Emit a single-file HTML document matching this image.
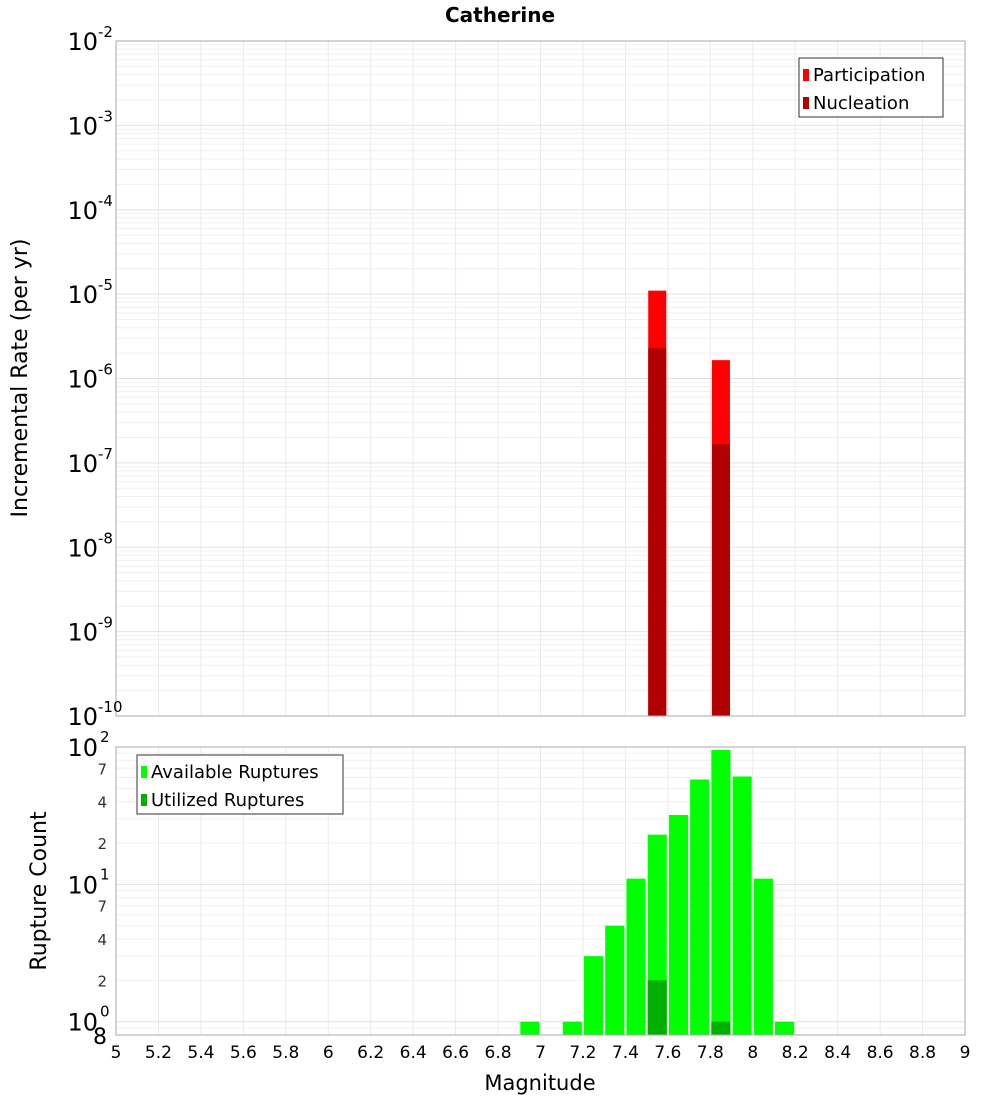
<!DOCTYPE html>
<html><head><meta charset="utf-8"><style>
body{margin:0;background:#fff;font-family:"DejaVu Sans","Liberation Sans",sans-serif}
svg text{font-family:"DejaVu Sans","Liberation Sans",sans-serif}
</style></head><body>
<svg id="c" width="1000" height="1100" xmlns="http://www.w3.org/2000/svg">
<text x="500" y="22" text-anchor="middle" font-size="20" font-weight="bold">Catherine</text>
</svg>
<script>
const topMags=[7.55,7.85];
const participation=[1.1e-5,1.65e-6];
const nucleation=[2.3e-6,1.67e-7];
const botMags=[6.95,7.05,7.15,7.25,7.35,7.45,7.55,7.65,7.75,7.85,7.95,8.05,8.15];
const available=[1,0,1,3,5,11,23,32,58,95,61,11,1];
const utilized=[0,0,0,0,0,0,2,0,0,1,0,0,0];
const xTicks=[5,5.2,5.4,5.6,5.8,6,6.2,6.4,6.6,6.8,7,7.2,7.4,7.6,7.8,8,8.2,8.4,8.6,8.8,9];
const topDecades=[-10,-9,-8,-7,-6,-5,-4,-3,-2];
const botMinorLabels=[2,4,7];

const svg=document.getElementById('c');const NS='http://www.w3.org/2000/svg';
function el(t,a,p){const e=document.createElementNS(NS,t);for(const k in a)e.setAttribute(k,a[k]);(p||svg).appendChild(e);return e;}
const L=116,R=965;
const x=v=>L+(v-5)/(9-5)*(R-L);
const T1=41,B1=716;const y1=v=>B1-(Math.log10(v)+10)/8*(B1-T1);
const T2=747,B2=1035;const lmin=Math.log10(0.8),lmax=2;const y2=v=>B2-(Math.log10(v)-lmin)/(lmax-lmin)*(B2-T2);

function grid(top,bot,yf,decs){
 const g=el('g',{});
 xTicks.forEach(t=>el('line',{x1:x(t),x2:x(t),y1:top,y2:bot,stroke:'#ebebeb'},g));
 decs.forEach(d=>{for(let m=1;m<10;m++){const v=m*Math.pow(10,d);const yy=yf(v);if(yy<top-0.5||yy>bot+0.5)continue;
  el('line',{x1:L,x2:R,y1:yy,y2:yy,stroke:m==1?'#e2e2e2':'#f0f0f0'},g);}});
}
grid(T1,B1,y1,topDecades);
grid(T2,B2,y2,[-1,0,1,2]);

// top bars
const bw=0.085;
topMags.forEach((m,i)=>{
 const r=el('rect',{x:x(m-bw/2),y:y1(participation[i]),width:x(m+bw/2)-x(m-bw/2),height:B1-y1(participation[i]),fill:'#ff0000'});
 
 const n=el('rect',{x:x(m-bw/2),y:y1(nucleation[i]),width:x(m+bw/2)-x(m-bw/2),height:B1-y1(nucleation[i]),fill:'#b00000'});
 
});
// bottom bars
const bw2=0.09;
botMags.forEach((m,i)=>{
 if(available[i]>0){const r=el('rect',{x:x(m-bw2/2),y:y2(available[i]),width:x(m+bw2/2)-x(m-bw2/2),height:B2-y2(available[i]),fill:'#00ff00'});
 }
 if(utilized[i]>0){const u=el('rect',{x:x(m-bw2/2),y:y2(utilized[i]),width:x(m+bw2/2)-x(m-bw2/2),height:B2-y2(utilized[i]),fill:'#00b000'});
 }
});
el('rect',{x:L,y:T1,width:R-L,height:B1-T1,fill:'none',stroke:'#aaa'});
el('rect',{x:L,y:T2,width:R-L,height:B2-T2,fill:'none',stroke:'#aaa'});

// top y labels
topDecades.forEach(d=>{const yy=y1(Math.pow(10,d));
 const t=el('text',{x:98,y:yy+9,'text-anchor':'end','font-size':24});t.textContent='10';
 
 const s=el('text',{x:98,y:yy-4,'font-size':15});s.textContent=String(d);
 });
// bottom y labels
[0,1,2].forEach(d=>{const yy=y2(Math.pow(10,d));
 const t=el('text',{x:98,y:yy+9,'text-anchor':'end','font-size':24});t.textContent='10';
 
 const s=el('text',{x:100,y:yy-5,'font-size':15});s.textContent=String(d);
 });
[0,1].forEach(d=>botMinorLabels.forEach(m=>{const yy=y2(m*Math.pow(10,d));
 const t=el('text',{x:107,y:yy+6,'text-anchor':'end','font-size':15,fill:'#333'});t.textContent=String(m);
 }));
{const t=el('text',{x:107,y:B2+9,'text-anchor':'end','font-size':22});t.textContent='8';
 }
// x labels
xTicks.forEach(v=>{const t=el('text',{x:x(v),y:1058,'text-anchor':'middle','font-size':17});t.textContent=String(v);
 });
{const t=el('text',{x:540,y:1090,'text-anchor':'middle','font-size':21});t.textContent='Magnitude';
 }
{const t=el('text',{x:0,y:0,'text-anchor':'middle','font-size':22,transform:'translate(27,378) rotate(-90)'});t.textContent='Incremental Rate (per yr)';
 }
{const t=el('text',{x:0,y:0,'text-anchor':'middle','font-size':22,transform:'translate(46,891) rotate(-90)'});t.textContent='Rupture Count';
 }
// legends
function legend(x0,y0,w,h,items,name){
 const g=el('g',{});
 el('rect',{x:x0,y:y0,width:w,height:h,fill:'#fff',stroke:'#333'},g);
 items.forEach((it,i)=>{el('rect',{x:x0+4,y:y0+11+i*28,width:6,height:12,fill:it[1]},g);
  const t=el('text',{x:x0+14,y:y0+23+i*28,'font-size':18},g);t.textContent=it[0];});
}
legend(799,58,144,59,[['Participation','#ff0000'],['Nucleation','#b00000']],'rate-legend');
legend(137,755,206,59,[['Available Ruptures','#00ff00'],['Utilized Ruptures','#00b000']],'count-legend');
</script>
</body></html>
